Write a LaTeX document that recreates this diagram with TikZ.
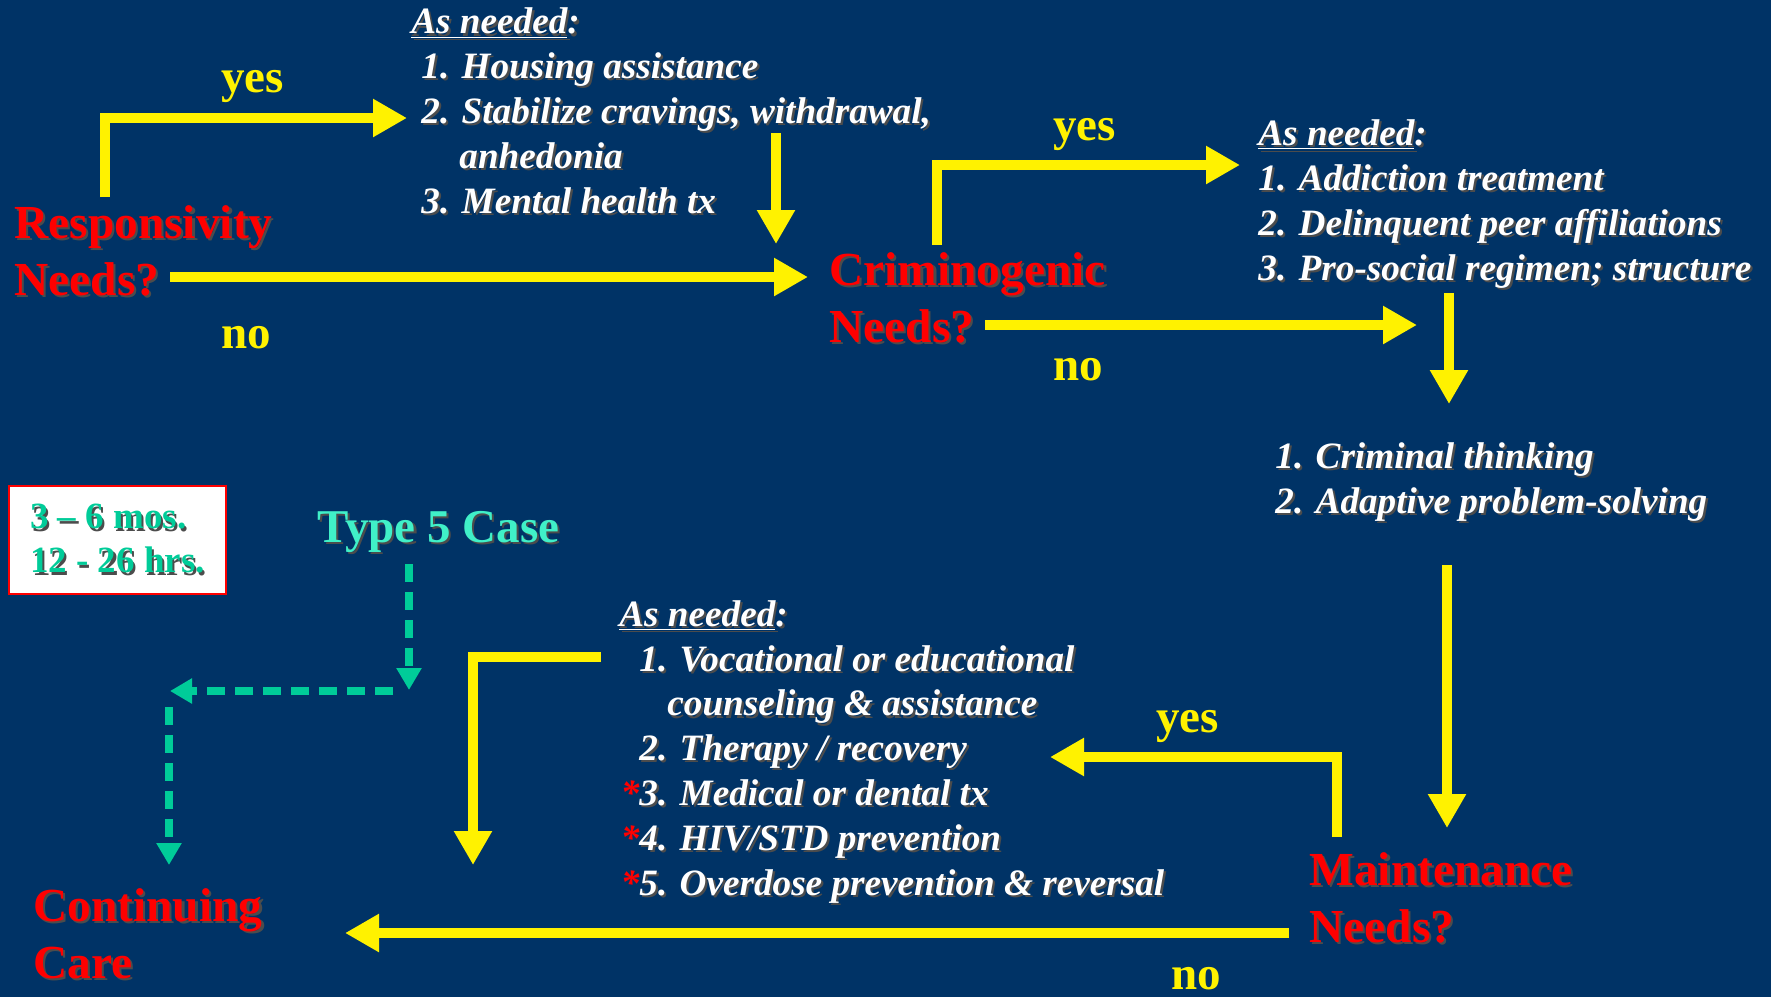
\documentclass[tikz,border=0pt]{standalone}
\usepackage{fontspec}
\setmainfont{Liberation Serif}
\usetikzlibrary{arrows.meta}

\definecolor{slidebg}{RGB}{0,51,102}
\definecolor{casegreen}{RGB}{0,204,153}
\definecolor{caselight}{RGB}{64,240,200}
\newcommand{\shd}[1]{\leavevmode\rlap{\kern1.1pt\raisebox{-1.1pt}{\color{black!70}#1}}#1}

\begin{document}
\begin{tikzpicture}[x=0.5pt, y=-0.5pt,
    needs/.style={anchor=base west, inner sep=0pt, text=red, align=left,
        font=\fontsize{23.7}{28.5}\selectfont\bfseries},
    answer/.style={anchor=base west, inner sep=0pt, text=yellow,
        font=\fontsize{23.5}{28}\selectfont\bfseries},
    todo/.style={anchor=base west, inner sep=0pt, text=white, align=left,
        font=\fontsize{18.6}{22.4}\selectfont\bfseries\itshape},
    flow/.style={yellow, line width=5.25pt, -{Triangle[length=17pt,width=18pt]}},
    caseflow/.style={casegreen, line width=3.6pt, dash pattern=on 9pt off 5pt,
        -{Triangle[length=11pt,width=12pt]}}]
        % slide background
        \useasboundingbox (0,0) rectangle (1771,997);
        \fill[slidebg] (0,0) rectangle (1771,997);

        % Questions (placed at the baseline of their last line)
        \node[needs] (resp) at (14,295) {\shd{Responsivity}\\\shd{Needs?}};
        \node[needs] (crim) at (829,342) {\shd{Criminogenic}\\\shd{Needs?}};
        \node[needs] (maint) at (1309,942) {\shd{Maintenance}\\\shd{Needs?}};
        \node[needs] (care) at (33,978) {\shd{Continuing}\\\shd{Care}};

        % Answers
        \node[answer] (respyes) at (221,92) {yes};
        \node[answer] (respno) at (221,348) {no};
        \node[answer] (crimyes) at (1053,140) {yes};
        \node[answer] (crimno) at (1053,380) {no};
        \node[answer] (maintyes) at (1156,732) {yes};
        \node[answer] (maintno) at (1171,989) {no};

        % Services
        \node[todo] (resplist) at (411,213) {\shd{\underline{As needed}:}\\
            \hspace*{5pt}\shd{1. Housing assistance}\\
            \hspace*{5pt}\shd{2. Stabilize cravings, withdrawal,}\\
            \hspace*{24pt}\shd{anhedonia}\\
            \hspace*{5pt}\shd{3. Mental health tx}};
        \node[todo] (crimlist) at (1258,280) {\shd{\underline{As needed}:}\\
            \shd{1. Addiction treatment}\\
            \shd{2. Delinquent peer affiliations}\\
            \shd{3. Pro-social regimen; structure}};
        \node[todo] (corelist) at (1275,513) {\shd{1. Criminal thinking}\\
            \shd{2. Adaptive problem-solving}};
        \node[todo] (maintlist) at (619,895) {\shd{\underline{As needed}:}\\
            \hspace*{10pt}\shd{1. Vocational or educational}\\
            \hspace*{24pt}\shd{counseling \& assistance}\\
            \hspace*{10pt}\shd{2. Therapy / recovery}\\
            \hspace*{10pt}\llap{\textcolor{red}{*}}\shd{3. Medical or dental tx}\\
            \hspace*{10pt}\llap{\textcolor{red}{*}}\shd{4. HIV/STD prevention}\\
            \hspace*{10pt}\llap{\textcolor{red}{*}}\shd{5. Overdose prevention \& reversal}};

        % Type 5
        \node[anchor=base west, inner sep=0pt, text=caselight,
            font=\fontsize{23.5}{28}\selectfont\bfseries] (type5) at (317,542) {\shd{Type 5 Case}};
        \node[draw=red, line width=1pt, fill=white, inner sep=0pt, align=left,
            minimum width=108.5pt, minimum height=54pt, text=casegreen,
            font=\fontsize{18.5}{22}\selectfont\bfseries] (duration) at (117.5,540)
            {\shd{3 -- 6 mos.}\\\shd{12 - 26 hrs.}};

        % ends of the connectors
        \coordinate (a1) at (105,197);
        \coordinate (a1e) at (407,118);
        \coordinate (a2) at (170,277);
        \coordinate (a2e) at (808,277);
        \coordinate (a3) at (776,133);
        \coordinate (a3e) at (776,244);
        \coordinate (a4) at (937,245);
        \coordinate (a4e) at (1240,165);
        \coordinate (a5) at (985,325);
        \coordinate (a5e) at (1417,325);
        \coordinate (a6) at (1449,293);
        \coordinate (a6e) at (1449,404);
        \coordinate (a7) at (1447,565);
        \coordinate (a7e) at (1447,828);
        \coordinate (a8) at (1337,837);
        \coordinate (a8e) at (1050,757);
        \coordinate (a9) at (1289,933);
        \coordinate (a9e) at (345,933);
        \coordinate (a10) at (601,657);
        \coordinate (a10e) at (473,865);
        \coordinate (d1) at (409,564);
        \coordinate (d1e) at (409,690);
        \coordinate (d2) at (393,691);
        \coordinate (d2e) at (170,691);
        \coordinate (d3) at (169,707);
        \coordinate (d3e) at (169,865);

        % yellow flow
        \draw[flow] (a1) |- (a1e);
        \draw[flow] (a2) -- (a2e);
        \draw[flow] (a3) -- (a3e);
        \draw[flow] (a4) |- (a4e);
        \draw[flow] (a5) -- (a5e);
        \draw[flow] (a6) -- (a6e);
        \draw[flow] (a7) -- (a7e);
        \draw[flow] (a8) |- (a8e);
        \draw[flow] (a9) -- (a9e);
        \draw[flow] (a10) -| (a10e);

        % dashed Type 5 route
        \draw[caseflow] (d1) -- (d1e);
        \draw[caseflow] (d2) -- (d2e);
        \draw[caseflow] (d3) -- (d3e);
\end{tikzpicture}
\end{document}
